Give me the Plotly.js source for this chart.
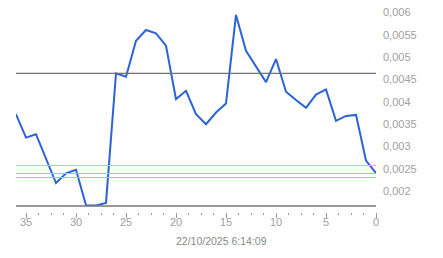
<!DOCTYPE html>
<html>
<head>
<meta charset="utf-8">
<script src="https://cdn.plot.ly/plotly-3.0.1.min.js"></script>
<style>html,body{margin:0;padding:0;background:#fff;}#chart{width:443px;height:258px;}</style>
</head>
<body>
<div id="chart"></div>
<script>
var xValues = [36,35,34,33,32,31,30,29,28,27,26,25,24,23,22,21,20,19,18,17,16,15,14,13,12,11,10,9,8,7,6,5,4,3,2,1,0];
var yValues = [0.00372,0.00320,0.003275,0.00273,0.002185,0.00240,0.00248,0.00169,0.001685,0.00174,0.004634,0.00456,0.005364,0.005605,0.00553,0.005253,0.00406,0.004246,0.003723,0.0035,0.003761,0.003964,0.00594,0.005141,0.004783,0.00444,0.004955,0.004225,0.004038,0.003866,0.00416,0.004275,0.003574,0.003685,0.003707,0.002688,0.002404];
var refLevels = [0.004634, 0.002576, 0.002397, 0.002308];
var refColors = ['#707070', '#f0c050', '#90d888', '#90d888'];
var xTitle = '22/10/2025 6:14:09';

var traces = refLevels.map(function(v, i){
  return {x:[36,0], y:[v,v], xaxis:'x2', yaxis:'y', type:'scatter', mode:'lines', hoverinfo:'none',
          line:{color:refColors[i], width:1.2}};
});
traces.push({x:xValues, y:yValues, type:'scatter', mode:'lines',
  line:{color:'#2b63d6', width:2}, hoverinfo:'none'});

var shapes = [{type:'line', xref:'x', yref:'y domain', x0:36, x1:0, y0:0, y1:0,
             line:{color:'#777777', width:1.5}}];

var layout = {
  width:443, height:258,
  margin:{l:16, r:67, t:2, b:44},
  paper_bgcolor:'#ffffff', plot_bgcolor:'#ffffff',
  separators:', ',
  showlegend:false,
  font:{family:'Liberation Sans, Arial, sans-serif', color:'#999999', size:11},
  xaxis:{range:[36,0], anchor:'free', position:0,
    showgrid:false, zeroline:false, showline:false,
    tickmode:'linear', tick0:0, dtick:5, ticks:'',
    tickfont:{size:11, color:'#a0a0a0'}},
  xaxis2:{range:[36,0], anchor:'free', position:0.00943, overlaying:'x',
    showgrid:false, zeroline:false, showline:false, showticklabels:false,
    tickmode:'linear', tick0:0, dtick:5,
    ticks:'outside', ticklen:5, tickcolor:'#999999', tickwidth:1,
    minor:{dtick:1.25, tick0:0, ticks:'outside', ticklen:2, tickcolor:'#999999', tickwidth:1}},
  yaxis:{range:[0.001671, 0.00623], domain:[0.0377,1], side:'right',
    showgrid:false, zeroline:false, showline:false, ticks:'',
    ticklabelstandoff:6,
    tickmode:'linear', tick0:0, dtick:0.0005,
    tickfont:{size:11, color:'#a0a0a0'}},
  shapes:shapes,
  annotations:[{text:xTitle, xref:'paper', yref:'paper', x:(221-16)/360, y:-0.129,
    xanchor:'center', yanchor:'middle', showarrow:false,
    font:{size:10.5, color:'#888888'}}]
};
Plotly.newPlot('chart', traces, layout, {staticPlot:true, displayModeBar:false});
</script>
</body>
</html>
